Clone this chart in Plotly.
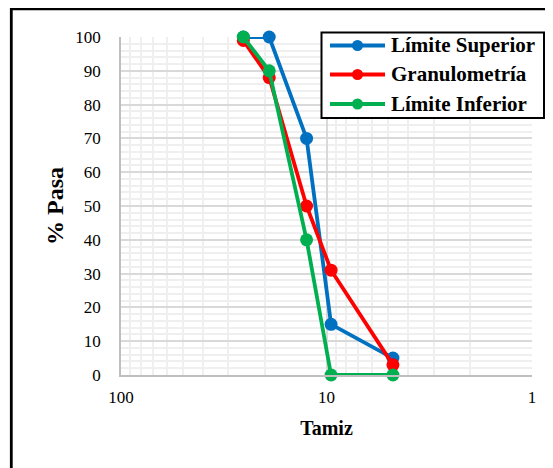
import plotly.graph_objects as go

# Data
tamiz = [25.4, 19.0, 12.5, 9.5, 4.75]
lim_sup = [100, 100, 70, 15, 5]
granulometria = [99, 88, 50, 31, 3]
lim_inf = [100, 90, 40, 0, 0]

series_names = ["Límite Superior", "Granulometría", "Límite Inferior"]
series_values = [lim_sup, granulometria, lim_inf]
series_colors = ["#0070C0", "#FF0000", "#00B050"]

FONT = "Liberation Serif, Times New Roman, serif"

fig = go.Figure()
for name, vals, col in zip(series_names, series_values, series_colors):
    fig.add_trace(go.Scatter(
        x=tamiz, y=vals, name=name, mode="lines+markers",
        line=dict(color=col, width=3.8),
        marker=dict(color=col, size=13),
        cliponaxis=False, showlegend=False,
    ))

# page body has an 8px margin; figure coordinates are shifted accordingly
OFF = 8
W, H = 553 - OFF, 468 - OFF
L, T = 121 - OFF, 37 - OFF
pw, ph = 411, 338
R, B = W - L - pw, H - T - ph

def px(x):  # reference pixel x -> paper
    return (x - OFF - L) / pw

def py(y):  # reference pixel y -> paper
    return (H - B - (y - OFF)) / ph

shapes = [dict(
    type="rect", xref="paper", yref="paper",
    x0=px(11.3), x1=px(580), y0=py(500), y1=py(8.8),
    line=dict(color="black", width=2.8), fillcolor="rgba(0,0,0,0)",
    layer="above",
)]
annotations = []

# custom legend box
shapes.append(dict(
    type="rect", xref="paper", yref="paper",
    x0=px(321.5), x1=px(544), y0=py(118), y1=py(32.5),
    line=dict(color="black", width=2), fillcolor="white", layer="above",
))
row_y = [45.5, 74.5, 104]
for name, col, ry in zip(series_names, series_colors, row_y):
    shapes.append(dict(
        type="line", xref="paper", yref="paper",
        x0=px(330), x1=px(385), y0=py(ry), y1=py(ry),
        line=dict(color=col, width=3.8), layer="above",
    ))
    shapes.append(dict(
        type="circle", xref="paper", yref="paper",
        xsizemode="pixel", ysizemode="pixel",
        xanchor=px(357.5), yanchor=py(ry),
        x0=-5.5, x1=5.5, y0=-5.5, y1=5.5,
        line=dict(color=col, width=0), fillcolor=col, layer="above",
    ))
    annotations.append(dict(
        xref="paper", yref="paper", x=px(388.5), y=py(ry),
        xanchor="left", yanchor="middle", showarrow=False,
        text=name, font=dict(family=FONT, size=21, color="black", weight="bold"),
    ))

fig.update_layout(
    width=W, height=H,
    margin=dict(l=L, r=R, t=T, b=B, pad=0),
    paper_bgcolor="white", plot_bgcolor="white",
    font=dict(family=FONT, color="black", size=17),
    showlegend=False,
    xaxis=dict(
        type="log", range=[2, 0], autorange=False,
        tickvals=[100, 10, 1], ticktext=["100", "10", "1"],
        showgrid=True, gridcolor="#D9D9D9", gridwidth=1.5,
        minor=dict(tickvals=[v * d for d in [1, 10] for v in range(2, 10)],
                   showgrid=True, gridcolor="#EFEFEF", gridwidth=1.5),
        showline=True, linecolor="#BFBFBF", linewidth=1.5,
        zeroline=False, ticks="", ticklabelstandoff=6,
        tickfont=dict(family=FONT, size=17, color="black"),
        title=dict(text="Tamiz", font=dict(family=FONT, size=20, weight="bold", color="black"), standoff=15),
    ),
    yaxis=dict(
        range=[0, 100], autorange=False,
        tickvals=list(range(0, 101, 10)),
        showgrid=True, gridcolor="#D9D9D9", gridwidth=1.5,
        minor=dict(dtick=2, showgrid=True, gridcolor="#EFEFEF", gridwidth=1.5),
        showline=True, linecolor="#BFBFBF", linewidth=1.5,
        zeroline=False, ticks="", ticklabelstandoff=15,
        tickfont=dict(family=FONT, size=17, color="black"),
        title=dict(text="% Pasa", font=dict(family=FONT, size=24, weight="bold", color="black"), standoff=5),
    ),
    shapes=shapes,
    annotations=annotations,
)

fig.write_html("out.html")
